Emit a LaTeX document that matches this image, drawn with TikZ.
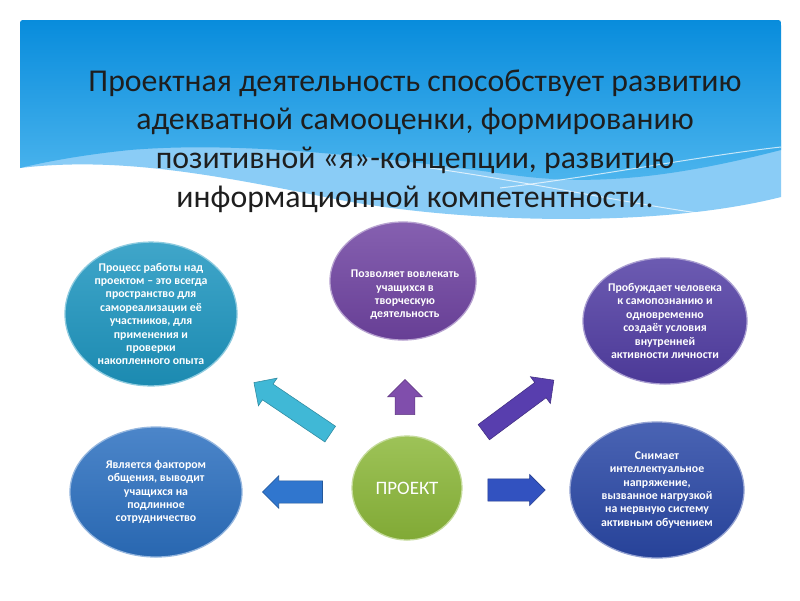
\documentclass[tikz,border=0pt]{standalone}
\usepackage{fontspec}
\setmainfont{Carlito}
\usetikzlibrary{shapes.geometric,shapes.arrows}
\definecolor{bandtop}{RGB}{8,140,220}
\definecolor{bandbot}{RGB}{78,182,238}
\definecolor{wavecol}{RGB}{138,204,246}
\definecolor{titlecol}{RGB}{30,30,30}
\definecolor{tealc}{RGB}{30,150,192}
\definecolor{purpc}{RGB}{112,68,162}
\definecolor{indc}{RGB}{82,62,164}
\definecolor{bluec}{RGB}{44,112,192}
\definecolor{navyc}{RGB}{42,72,166}
\definecolor{greenc}{RGB}{140,184,58}
\definecolor{tealar}{RGB}{64,184,214}
\definecolor{purpar}{RGB}{128,78,172}
\definecolor{indar}{RGB}{88,62,174}
\definecolor{bluear}{RGB}{48,118,206}
\definecolor{navyar}{RGB}{50,82,192}
\tikzset{
  btn/.style={ellipse,draw=#1!50!white,line width=0.9pt,top color=#1!85!white,bottom color=#1!92!black,inner sep=0pt},
  btxt/.style={align=center,text=white,font=\fontsize{8.4}{9.5}\selectfont\bfseries},
  barr/.style={single arrow,draw=#1!75!black,line width=0.4pt,fill=#1,inner xsep=0pt},
  capt/.style={align=center,text=titlecol,font=\fontsize{22.6}{27.5}\selectfont},
}
\begin{document}
\begin{tikzpicture}[x=0.025cm,y=-0.025cm]
  \useasboundingbox (0,0) rectangle (800,600);
  \fill[white] (0,0) rectangle (800,600);
  \fill[wavecol] (20,140) -- (20,168) .. controls (120,156) and (220,176) .. (330,198)
    .. controls (450,222) and (650,230) .. (781,197) -- (781,140) -- cycle;
  \shade[top color=bandtop,bottom color=bandbot] (20,168) -- (20,26) .. controls (20,20) .. (26,20)
    -- (775,20) .. controls (781,20) .. (781,26)
    -- (781,150) .. controls (680,176) and (600,186) .. (520,176)
    .. controls (400,160) and (250,140) .. (130,150) .. controls (80,155) and (40,163) .. (20,168) -- cycle;
  \draw[white,opacity=0.7,line width=0.7pt] (430,168) .. controls (530,182) and (640,206) .. (720,216);
  \draw[white,opacity=0.7,line width=0.7pt] (500,188) .. controls (600,176) and (700,156) .. (781,147);
  \node[capt] (title) at (415,141) {Проектная деятельность способствует развитию\\адекватной самооценки, формированию\\позитивной «я»-концепции, развитию\\информационной компетентности.};

  \node[btn=tealc,minimum width=4.3cm,minimum height=3.45cm,btxt] (A) at (151,314) {Процесс работы над\\проектом – это всегда\\пространство для\\самореализации её\\участников, для\\применения и\\проверки\\накопленного опыта};
  \node[btn=purpc,minimum width=3.65cm,minimum height=2.95cm] (B) at (403,281) {};
  \node[btxt] (Btxt) at (405,295) {Позволяет вовлекать\\учащихся в\\творческую\\деятельность};
  \node[btn=indc,minimum width=4.1cm,minimum height=3.15cm,btxt] (C) at (665,321) {Пробуждает человека\\к самопознанию и\\одновременно\\создаёт условия\\внутренней\\активности личности};
  \node[btn=bluec,minimum width=4.3cm,minimum height=3.25cm,btxt] (D) at (156,492) {Является фактором\\общения, выводит\\учащихся на\\подлинное\\сотрудничество};
  \node[btn=navyc,minimum width=4.35cm,minimum height=3.4cm,btxt] (E) at (657,490) {Снимает\\интеллектуальное\\напряжение,\\вызванное нагрузкой\\на нервную систему\\активным обучением};
  \node[btn=greenc,minimum width=2.75cm,minimum height=2.6cm,text=white,font=\fontsize{13.5}{16}\selectfont] (P) at (407,488) {ПРОЕКТ};

  \node[barr=tealar,minimum height=2.3cm,inner ysep=0.23cm,single arrow head extend=0.18cm,rotate=146] (arA) at (296,411) {};
  \node[barr=purpar,minimum height=0.88cm,inner ysep=0.24cm,single arrow head extend=0.19cm,rotate=90] (arB) at (405,402) {};
  \node[barr=indar,minimum height=2.18cm,inner ysep=0.23cm,single arrow head extend=0.18cm,rotate=36.6] (arC) at (515,409) {};
  \node[barr=bluear,minimum height=1.5cm,inner ysep=0.27cm,single arrow head extend=0.13cm,rotate=180] (arD) at (298,492) {};
  \node[barr=navyar,minimum height=1.43cm,inner ysep=0.27cm,single arrow head extend=0.11cm] (arE) at (511,490) {};
\end{tikzpicture}
\end{document}
